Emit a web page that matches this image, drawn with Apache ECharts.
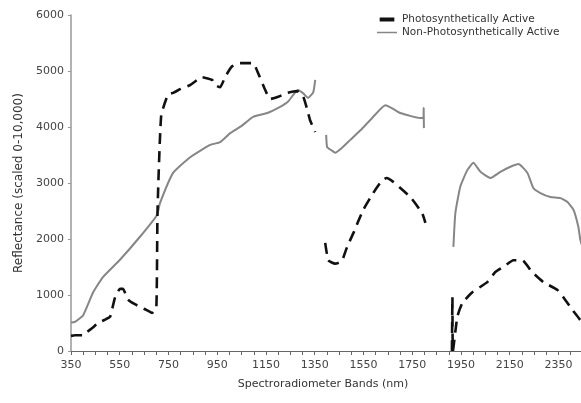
<!DOCTYPE html>
<html>
<head>
<meta charset="utf-8">
<script src="https://cdn.jsdelivr.net/npm/echarts@6/dist/echarts.min.js"></script>
<style>
  html, body { margin: 0; padding: 0; background: #fff; }
  #chart { width: 581px; height: 403px; }
</style>
</head>
<body>
<div id="chart"></div>
<script>
// Spectral reflectance of photosynthetically and non-photosynthetically active vegetation.
// Gaps ('-') mark the water-absorption bands that are left out.
const seriesNames = ['Photosynthetically Active', 'Non-Photosynthetically Active'];

const activeBands = [
  350, 366, 400, 416, 440, 461, 490, 510, 518, 531, 551, 563, 584, 610, 642, 665, 683, 700, 705, 720, 748, 769, 800, 839, 888, 929, 940, 962, 982, 1010, 1044, 1097, 1118, 1147, 1167, 1200, 1237, 1278, 1303, 1320, 1331, 1352,
  1375,
  1393, 1405, 1420, 1434, 1450, 1463, 1483, 1508, 1549, 1590, 1627, 1645, 1672, 1742, 1791, 1804,
  1860,
  1913, 1915, 1917, 1935, 1956, 1997, 2058, 2091, 2130, 2165, 2202, 2240, 2264, 2288, 2346, 2370, 2410, 2440, 2460
];
const activeValues = [
  270, 280, 280, 340, 420, 500, 560, 610, 730, 960, 1110, 1110, 920, 840, 770, 720, 680, 760, 2500, 4200, 4580, 4610, 4680, 4750, 4890, 4840, 4750, 4710, 4890, 5080, 5140, 5140, 4960, 4660, 4500, 4540, 4610, 4640, 4540, 4300, 4120, 3910,
  '-',
  1930, 1620, 1580, 1560, 1580, 1620, 1860, 2100, 2520, 2820, 3050, 3090, 3020, 2750, 2460, 2290,
  '-',
  0, 960, 0, 610, 860, 1050, 1230, 1410, 1520, 1620, 1620, 1420, 1320, 1230, 1090, 960, 720, 550, 420
];

const nonActiveBands = [
  350, 366, 400, 440, 481, 551, 633, 703, 715, 769, 839, 921, 962, 1003, 1050, 1097, 1155, 1208, 1240, 1270, 1282, 1303, 1323, 1344, 1352,
  1375,
  1397, 1401, 1420, 1434, 1460, 1496, 1540, 1578, 1640, 1670, 1701, 1783, 1796, 1797, 1798,
  1860,
  1919, 1927, 1947, 1976, 2001, 2030, 2071, 2112, 2153, 2186, 2223, 2247, 2276, 2317, 2358, 2387, 2412, 2432, 2440, 2460
];
const nonActiveValues = [
  510, 520, 640, 1040, 1320, 1630, 2040, 2430, 2640, 3180, 3460, 3680, 3730, 3890, 4020, 4180, 4250, 4360, 4450, 4620, 4660, 4600, 4520, 4620, 4840,
  '-',
  3860, 3640, 3580, 3540, 3620, 3770, 3950, 4125, 4390, 4330, 4250, 4160, 4160, 4340, 3980,
  '-',
  1860, 2460, 2930, 3230, 3360, 3200, 3090, 3200, 3290, 3340, 3180, 2910, 2820, 2750, 2730, 2660, 2520, 2210, 1980, 1700
];

const yTicks = { min: 0, max: 6000, step: 1000 };
const xTicks = { min: 350, max: 2500, step: 200 };

const pair = (xs, ys) => xs.map((x, i) => [x, ys[i]]);

const chart = echarts.init(document.getElementById('chart'), null, { renderer: 'canvas' });
const textFont = '"DejaVu Sans", Verdana, sans-serif';
const plain = v => String(v);

chart.setOption({
  animation: false,
  backgroundColor: '#ffffff',
  grid: { left: 71, right: -14, top: 15, bottom: 52, containLabel: false, outerBoundsMode: 'none' },
  legend: {
    orient: 'vertical',
    left: 372,
    top: 9,
    itemGap: 2,
    itemWidth: 20,
    itemHeight: 4,
    textStyle: { fontFamily: textFont, fontSize: 10.5, color: '#333' },
    data: [
      { name: seriesNames[0], icon: 'path://M6,0 L17,0 L17,3 L6,3 Z' },
      { name: seriesNames[1], icon: 'path://M0,0 L20,0 L20,1.5 L0,1.5 Z' }
    ]
  },
  xAxis: {
    type: 'value',
    min: xTicks.min,
    max: xTicks.max,
    interval: xTicks.step,
    name: 'Spectroradiometer Bands (nm)',
    nameLocation: 'middle',
    nameGap: 28,
    nameTextStyle: { fontFamily: textFont, fontSize: 11, color: '#333', padding: [0, 20, 0, 0] },
    axisLine: { lineStyle: { color: '#666', width: 1.2 } },
    axisTick: { show: true, length: 4, lineStyle: { color: '#666' } },
    minorTick: { show: true, splitNumber: 4, length: 4, lineStyle: { color: '#666' } },
    axisLabel: { fontFamily: textFont, fontSize: 11, color: '#444', margin: 9, showMaxLabel: false, formatter: plain },
    splitLine: { show: false }
  },
  yAxis: {
    type: 'value',
    min: yTicks.min,
    max: yTicks.max,
    interval: yTicks.step,
    name: 'Reflectance (scaled 0-10,000)',
    nameLocation: 'middle',
    nameGap: 46,
    nameRotate: 90,
    nameTextStyle: { fontFamily: textFont, fontSize: 12, color: '#333' },
    axisLine: { show: true, lineStyle: { color: '#999', width: 1.5 } },
    axisTick: { show: true, length: 3, lineStyle: { color: '#999' } },
    axisLabel: { fontFamily: textFont, fontSize: 11, color: '#444', margin: 7, formatter: plain },
    splitLine: { show: false }
  },
  series: [
    {
      name: seriesNames[0],
      type: 'line',
      data: pair(activeBands, activeValues),
      showSymbol: false,
      symbol: 'none',
      connectNulls: false,
      smooth: 0.15,
      lineStyle: { color: '#111', width: 2.6, type: [11, 7] },
      itemStyle: { color: '#111' },
      z: 3
    },
    {
      name: seriesNames[1],
      type: 'line',
      data: pair(nonActiveBands, nonActiveValues),
      showSymbol: false,
      symbol: 'none',
      connectNulls: false,
      smooth: 0.15,
      lineStyle: { color: '#868686', width: 2 },
      itemStyle: { color: '#868686' },
      z: 2
    }
  ]
});
</script>
</body>
</html>
